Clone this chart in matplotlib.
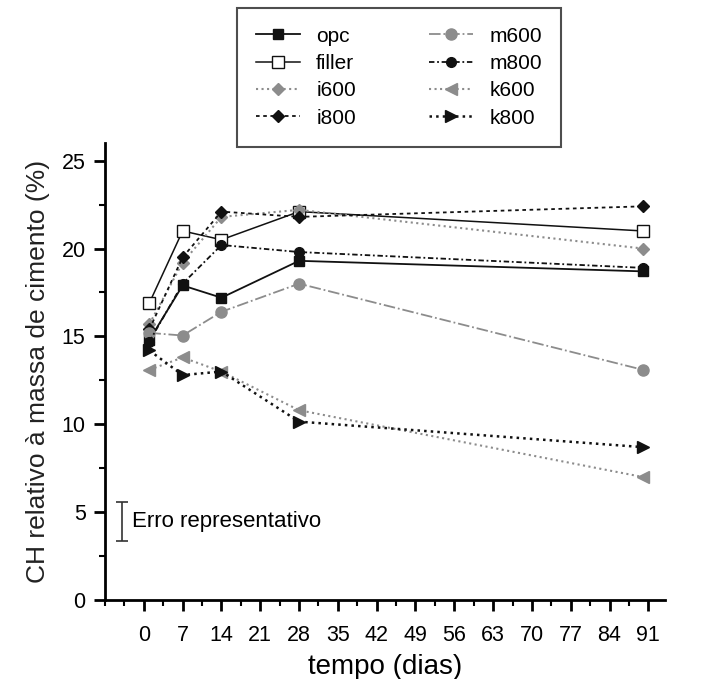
import matplotlib
matplotlib.use("Agg")
import matplotlib.pyplot as plt
from matplotlib.ticker import MultipleLocator

plt.rcParams['font.family'] = ['Liberation Sans', 'DejaVu Sans']

# dados
dias = [1, 7, 14, 28, 90]
opc = [14.8, 17.9, 17.2, 19.3, 18.7]
filler = [16.9, 21.0, 20.5, 22.1, 21.0]
i600 = [15.7, 19.2, 21.8, 22.2, 20.0]
i800 = [15.4, 19.5, 22.1, 21.8, 22.4]
m600 = [15.2, 15.05, 16.4, 18.0, 13.1]
m800 = [14.7, 18.0, 20.2, 19.8, 18.9]
k600 = [13.1, 13.8, 13.0, 10.8, 7.0]
k800 = [14.2, 12.8, 13.0, 10.15, 8.7]

erro_x = -4
erro_y = 4.47
erro = 1.12

preto = '#111111'
cinza = '#8c8c8c'

fig = plt.figure(figsize=(7.04, 6.79), dpi=100)
ax = fig.add_axes([105 / 704, 0.1163, 560 / 704, 0.673])

ax.plot(dias, opc, '-', color=preto, marker='s', ms=7, lw=1.3, label='opc')
ax.plot(dias, filler, '-', color=preto, marker='s', mfc='white', ms=9, lw=1.1, label='filler')
ax.plot(dias, i600, ':', color=cinza, marker='D', ms=6.5, lw=1.5, label='i600')
ax.plot(dias, i800, '--', color=preto, marker='D', ms=6.5, lw=1.3, dashes=(2, 2), label='i800')
ax.plot(dias, m600, '-.', color=cinza, marker='o', ms=8, lw=1.3, label='m600')
ax.plot(dias, m800, '-.', color=preto, marker='o', ms=7, lw=1.3, dashes=(3, 1.5, 1, 1.5), label='m800')
ax.plot(dias, k600, ':', color=cinza, marker='<', ms=9, lw=1.5, label='k600')
ax.plot(dias, k800, ':', color=preto, marker='>', ms=9, lw=1.8, label='k800')

# barra de erro representativo
ax.errorbar([erro_x], [erro_y], yerr=[erro], color='#333333', capsize=4, lw=1.2, capthick=1.2)
ax.text(erro_x + 1.9, erro_y, 'Erro representativo', fontsize=16, va='center')

ax.set_xlim(-7, 94)
ax.set_ylim(0, 26)
ax.set_xticks(range(0, 92, 7))
ax.xaxis.set_minor_locator(MultipleLocator(3.5))
ax.set_yticks([0, 5, 10, 15, 20, 25])
ax.yaxis.set_minor_locator(MultipleLocator(2.5))

for s in ['top', 'right']:
    ax.spines[s].set_visible(False)
for s in ['left', 'bottom']:
    ax.spines[s].set_linewidth(2)
ax.tick_params(which='major', length=8, width=2, labelsize=15.5, pad=6)
ax.tick_params(which='minor', length=4, width=1.5)
ax.tick_params(axis='x', pad=10)

ax.set_xlabel('tempo (dias)', fontsize=20, labelpad=6)
ax.set_ylabel('CH relativo à massa de cimento (%)', fontsize=19, color='#222222', labelpad=8)

leg = fig.legend(loc='upper left', bbox_to_anchor=(237 / 704, 1 - 8 / 679), ncol=2, fontsize=15,
                 frameon=True, fancybox=False, edgecolor='#222222', handlelength=2.1,
                 handletextpad=0.8, columnspacing=3.5, labelspacing=0.4, borderpad=0.9,
                 borderaxespad=0)
leg.get_frame().set_linewidth(1.5)

fig.savefig('out.png', dpi=100)
